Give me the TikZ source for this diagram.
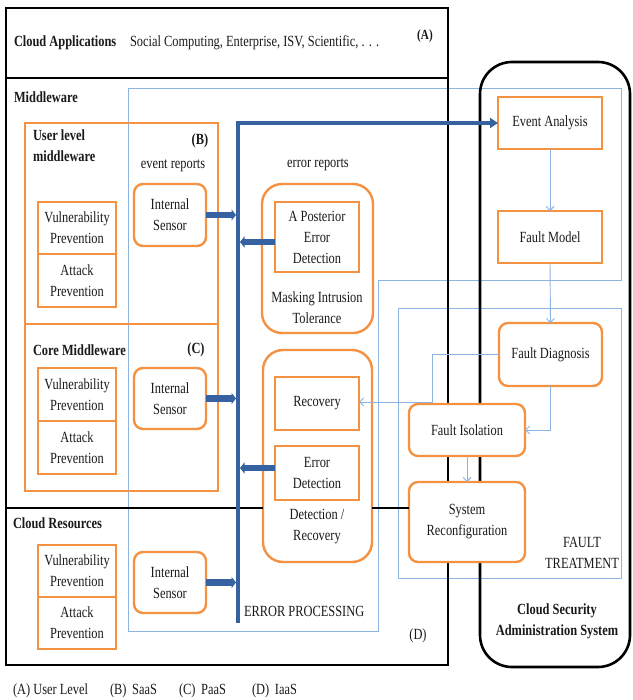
\documentclass[tikz,border=0pt]{standalone}
\usepackage{fontspec}
\setmainfont{Liberation Serif}[FakeStretch=0.8]
\usetikzlibrary{arrows.meta,calc}
\definecolor{orng}{RGB}{245,146,66}
\definecolor{lblue}{RGB}{141,179,226}
\definecolor{busblue}{RGB}{55,98,162}
\definecolor{txt}{RGB}{26,26,26}
\newcommand\mybox[7]{\node[#1, minimum width={(#4-#2)*1pt}, minimum height={(#5-#3)*1pt}] (#6) at ({(#2+#4)/2},{(#3+#5)/2}) {#7};}
\begin{document}
\begin{tikzpicture}[x=1pt,y=-1pt,
  every node/.style={text=txt, font=\fontsize{15.5}{21}\selectfont, inner sep=0pt, outer sep=0pt},
  obox/.style={draw=orng, line width=2.4pt, fill=white, align=center},
  rbox/.style={obox, rounded corners=9pt},
  rbig/.style={obox, rounded corners=20pt},
  blk/.style={draw=black, line width=2.6pt},
  thinblue/.style={draw=lblue, line width=0.9pt},
  flow/.style={thinblue, -{Straight Barb[length=4pt,width=8pt]}},
  bus/.style={draw=busblue, line width=4pt},
  busarrow/.style={draw=busblue, line width=6.5pt, -{Triangle[length=4.5pt,width=11pt]}},
  lbl/.style={align=center},
  bld/.style={font=\fontsize{15.5}{21}\selectfont\bfseries},
]
\fill[white] (0,0) rectangle (632,700);
\useasboundingbox (0,0) rectangle (632,700);

% thin blue regions
\draw[thinblue] (128,88) -- (621,88) -- (621,280) -- (378,280) -- (378,631) -- (128,631) -- cycle;
\mybox{thinblue}{398}{308}{621}{578}{ft}{}

% black frames
\mybox{blk}{6}{8}{448}{78}{boxA}{}
\mybox{blk}{6}{78}{448}{665}{main}{}
\mybox{blk,rounded corners=32pt}{480}{62}{630}{667}{csas}{}

% orange groups
\mybox{obox,fill=none}{25}{123}{218}{324}{ulm}{}
\mybox{obox,fill=none}{25}{324}{218}{491}{cm}{}

\mybox{obox}{38}{202}{116}{254}{vp1}{Vulnerability\\Prevention}
\mybox{obox}{38}{254}{116}{307}{ap1}{Attack\\Prevention}
\mybox{rbox}{134}{184}{206}{246}{is1}{Internal\\Sensor}

\mybox{obox}{38}{368}{116}{421}{vp2}{Vulnerability\\Prevention}
\mybox{obox}{38}{421}{116}{474}{ap2}{Attack\\Prevention}
\mybox{rbox}{134}{368}{206}{429}{is2}{Internal\\Sensor}

\mybox{obox}{38}{545}{116}{597}{vp3}{Vulnerability\\Prevention}
\mybox{obox}{38}{597}{116}{649}{ap3}{Attack\\Prevention}
\mybox{rbox}{134}{552}{206}{613}{is3}{Internal\\Sensor}

\mybox{rbig}{262}{184}{373}{333}{mit}{}
\mybox{obox}{275}{202}{359}{272}{aped}{A Posterior\\Error\\Detection}
\node[lbl] (mitl) at (317,308) {Masking Intrusion\\Tolerance};

\mybox{rbig}{263}{350}{372}{562}{dr}{}
\mybox{obox}{275}{377}{359}{430}{rec}{Recovery}
\mybox{obox}{275}{446}{359}{500}{ed}{Error\\Detection}
\node[lbl] (drl) at (317,527) {Detection /\\Recovery};

\mybox{obox}{498}{97}{602}{149}{ea}{Event Analysis}
\mybox{obox}{498}{211}{602}{263}{fm}{Fault Model}
\mybox{rbox}{499}{323}{602}{386}{fd}{Fault Diagnosis}
\mybox{rbox}{409}{404}{525}{456}{fi}{Fault Isolation}
\mybox{rbox}{409}{482}{525}{562}{sr}{System\\Reconfiguration}

% divider between middleware and resources
\coordinate (dv) at (6,508);
\draw[blk] (main.west |- dv) -- (dr.west |- dv);
\draw[blk] (dr.east |- dv) -- (sr.west |- dv);

% fault treatment flow
\draw[flow] (ea.south) -- (fm.north);
\draw[flow] (fm.south) -- (fd.north);
\draw[flow] (fd.south) |- (fi.east);
\coordinate (bend) at (432,402);
\draw[flow] (fd.west) -| (bend) -- (bend -| rec.east);
\draw[flow] (fi.south) -- (sr.north);

% bus
\coordinate (busbot) at (238,623);
\coordinate (bustop) at (238,123);
\draw[bus, -{Triangle[length=8pt,width=10pt]}] (busbot) -- (bustop) -- (bustop -| ea.west);
\draw[busarrow] (is1.east) -- ($(is1.east -| bustop)+(-2,0)$);
\draw[busarrow] (is2.east) -- ($(is2.east -| bustop)+(-2,0)$);
\draw[busarrow] (is3.east) -- ($(is3.east -| bustop)+(-2,0)$);
\draw[busarrow] ($(aped.west)+(0,5)$) -- ($(aped.west -| bustop)+(2,5)$);
\draw[busarrow] ($(ed.west)+(0,-5)$) -- ($(ed.west -| bustop)+(2,-5)$);

% labels
\node[bld, anchor=west] (capp) at (14,43) {Cloud Applications};
\node[anchor=west] (capps) at (130,43) {Social Computing, Enterprise, ISV, Scientific, . . .};
\node[bld, font=\fontsize{14}{18}\selectfont\bfseries] (la) at (425,36) {(A)};
\node[bld, anchor=west] (mw) at (14,97) {Middleware};
\node[bld, anchor=north west, align=left] (ulml) at (33,130) {User level\\middleware};
\node[bld] (lb) at (200,141) {(B)};
\node (evr) at (173,166) {event reports};
\node (err) at (318,165) {error reports};
\node[bld, anchor=west] (cml) at (33,350) {Core Middleware};
\node[bld] (lc) at (196,350) {(C)};
\node[bld, anchor=west] (crl) at (13,523) {Cloud Resources};
\node[anchor=west] (epl) at (244,611) {ERROR PROCESSING};
\node (ld) at (418,636) {(D)};
\node[lbl] (ftl) at (582,553) {FAULT\\TREATMENT};
\node[bld, align=center] (csasl) at (557,621) {Cloud Security\\Administration System};

\node[anchor=west] (lega) at (13,691) {(A) User Level};
\node[anchor=west] (legb) at (110,691) {(B)\, SaaS};
\node[anchor=west] (legc) at (179,691) {(C)\, PaaS};
\node[anchor=west] (legd) at (252,691) {(D)\, IaaS};
\end{tikzpicture}
\end{document}
